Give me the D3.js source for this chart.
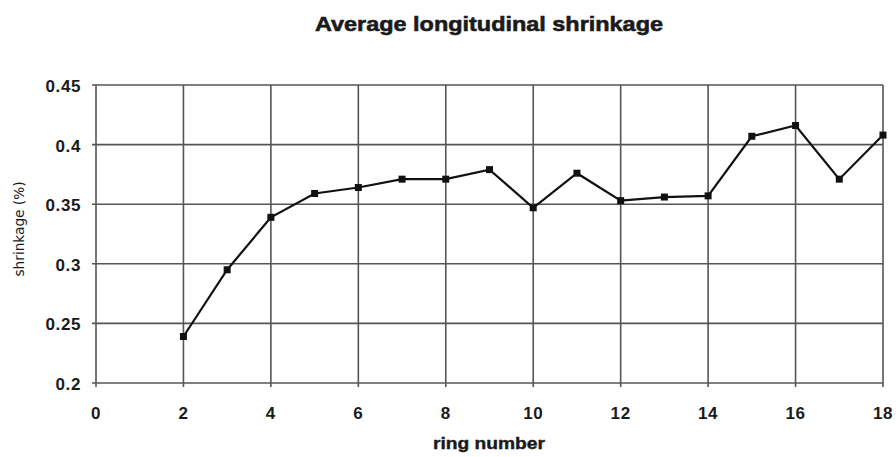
<!DOCTYPE html>
<html>
  <head>
    <meta charset="utf-8" />
    <title>Average longitudinal shrinkage</title>
    <script src="https://d3js.org/d3.v7.min.js"></script>
    <style>
      body { margin: 0; background: white; }
      text { font-family: "Liberation Sans", Arial, sans-serif; fill: #1a1a1a; }
    </style>
  </head>
  <body>
    <svg id="viz"></svg>
    <script>

    // data
    var ringNumbers = [2, 3, 4, 5, 6, 7, 8, 9, 10, 11, 12, 13, 14, 15, 16, 17, 18];
    var shrinkage = [0.239, 0.295, 0.339, 0.359, 0.364, 0.371, 0.371, 0.379, 0.347,
                     0.376, 0.353, 0.356, 0.357, 0.407, 0.416, 0.371, 0.408];
    var xTicks = [0, 2, 4, 6, 8, 10, 12, 14, 16, 18];
    var yTicks = [0.2, 0.25, 0.3, 0.35, 0.4, 0.45];

    var width = 896, height = 457;
    var plotLeft = 96, plotRight = 883, plotTop = 85, plotBottom = 383;

    var svg = d3.select("#viz")
      .attr("width", width)
      .attr("height", height);

    var x = d3.scaleLinear().domain([0, 18]).range([plotLeft, plotRight]);
    var y = d3.scaleLinear().domain([0.2, 0.45]).range([plotBottom, plotTop]);

    //grid lines
    svg.append("g")
      .selectAll("line")
      .data(yTicks)
      .enter().append("line")
      .attr("x1", plotLeft - 4).attr("x2", plotRight)
      .attr("y1", function(d) { return y(d); })
      .attr("y2", function(d) { return y(d); })
      .attr("stroke", "#555").attr("stroke-width", 1.6);

    svg.append("g")
      .selectAll("line")
      .data(xTicks)
      .enter().append("line")
      .attr("x1", function(d) { return x(d); })
      .attr("x2", function(d) { return x(d); })
      .attr("y1", plotTop).attr("y2", plotBottom + 4)
      .attr("stroke", "#555").attr("stroke-width", 1.6);

    //tick labels
    svg.append("g")
      .selectAll("text")
      .data(yTicks)
      .enter().append("text")
      .attr("x", plotLeft - 15)
      .attr("y", function(d) { return y(d) + 7; })
      .attr("text-anchor", "end")
      .style("font-size", "17px")
      .style("font-weight", "bold")
      .style("letter-spacing", "0.6px")
      .text(function(d) { return d3.format("")(d); });

    svg.append("g")
      .selectAll("text")
      .data(xTicks)
      .enter().append("text")
      .attr("x", function(d) { return x(d); })
      .attr("y", 419)
      .attr("text-anchor", "middle")
      .style("font-size", "17px")
      .style("font-weight", "bold")
      .style("letter-spacing", "0.6px")
      .text(function(d) { return d; });

    //line and markers
    var pts = ringNumbers.map(function(r, i) { return [r, shrinkage[i]]; });

    svg.append("path")
      .datum(pts)
      .attr("fill", "none")
      .attr("stroke", "#111")
      .attr("stroke-width", 2.2)
      .attr("d", d3.line()
        .x(function(d) { return x(d[0]); })
        .y(function(d) { return y(d[1]); }));

    svg.append("g")
      .selectAll("rect")
      .data(pts)
      .enter().append("rect")
      .attr("x", function(d) { return x(d[0]) - 3.5; })
      .attr("y", function(d) { return y(d[1]) - 3.5; })
      .attr("width", 7).attr("height", 7)
      .attr("fill", "#111");

    //titles
    svg.append("text")
      .attr("x", 489)
      .attr("y", 31)
      .attr("text-anchor", "middle")
      .attr("textLength", 348)
      .attr("lengthAdjust", "spacingAndGlyphs")
      .style("font-size", "21px")
      .style("font-weight", "bold")
      .style("stroke", "#1a1a1a")
      .style("stroke-width", "0.6px")
      .text("Average longitudinal shrinkage");

    svg.append("text")
      .attr("x", 489)
      .attr("y", 449)
      .attr("text-anchor", "middle")
      .attr("textLength", 112)
      .attr("lengthAdjust", "spacingAndGlyphs")
      .style("font-size", "16px")
      .style("font-weight", "bold")
      .style("stroke", "#1a1a1a")
      .style("stroke-width", "0.4px")
      .text("ring number");

    svg.append("text")
      .attr("transform", "translate(24,229) rotate(-90)")
      .attr("text-anchor", "middle")
      .attr("textLength", 95)
      .attr("lengthAdjust", "spacingAndGlyphs")
      .style("font-size", "14px")
      .style("font-family", "'DejaVu Sans Condensed', 'Liberation Sans Narrow', sans-serif")
      .text("shrinkage (%)");

    </script>
  </body>
</html>
